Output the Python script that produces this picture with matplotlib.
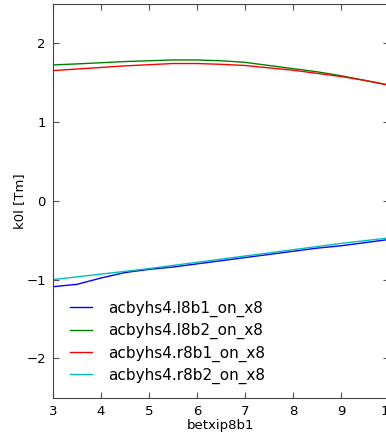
import matplotlib
matplotlib.use("Agg")
import matplotlib.pyplot as plt
import numpy as np

# knob values (betxip8b1)
x = [3.0, 3.5, 4.0, 4.5, 5.0, 5.5, 6.0, 6.5, 7.0, 7.5, 8.0, 8.5, 9.0, 9.5, 10.0]

l8b1 = [-1.09, -1.06, -0.98, -0.91, -0.87, -0.84, -0.80, -0.76, -0.72, -0.68, -0.64, -0.60, -0.57, -0.53, -0.49]
l8b2 = [1.727, 1.74, 1.755, 1.77, 1.78, 1.79, 1.79, 1.78, 1.76, 1.72, 1.68, 1.64, 1.59, 1.53, 1.47]
r8b1 = [1.655, 1.675, 1.695, 1.715, 1.73, 1.745, 1.745, 1.735, 1.72, 1.69, 1.66, 1.62, 1.58, 1.53, 1.47]
r8b2 = [-1.00, -0.965, -0.93, -0.895, -0.86, -0.82, -0.78, -0.74, -0.70, -0.66, -0.62, -0.58, -0.54, -0.505, -0.47]

labels = ["acbyhs4.l8b1_on_x8", "acbyhs4.l8b2_on_x8",
          "acbyhs4.r8b1_on_x8", "acbyhs4.r8b2_on_x8"]
colors = ["#0000ff", "#008000", "#ff0000", "#00bfbf"]

fig = plt.figure(figsize=(3.86, 4.34), dpi=100)
ax = fig.add_axes([0.137, 0.0836, 0.871, 0.907])

for ys, lab, c in zip([l8b1, l8b2, r8b1, r8b2], labels, colors):
    ax.plot(x, ys, color=c, lw=1.0, label=lab)

ax.set_xlim(3, 10)
ax.set_ylim(-2.5, 2.5)
ax.set_xticks(range(3, 11))
ax.set_yticks([-2, -1, 0, 1, 2])
ax.set_yticklabels(["\u22122", "\u22121", "0", "1", "2"])
ax.tick_params(direction="in", top=True, right=True, labelsize=9.5, length=4,
               pad=5, color="#555555")
for s in ax.spines.values():
    s.set_color("#444444")
ax.set_xlabel("betxip8b1", fontsize=9.5, labelpad=1)
ax.set_ylabel("k0l [Tm]", fontsize=9.5, labelpad=0)

ax.legend(loc="lower left", frameon=False, fontsize=11, handlelength=1.45,
          handletextpad=1.05, labelspacing=0.4, bbox_to_anchor=(0.01, 0.0))

fig.savefig("out.png", dpi=100)
